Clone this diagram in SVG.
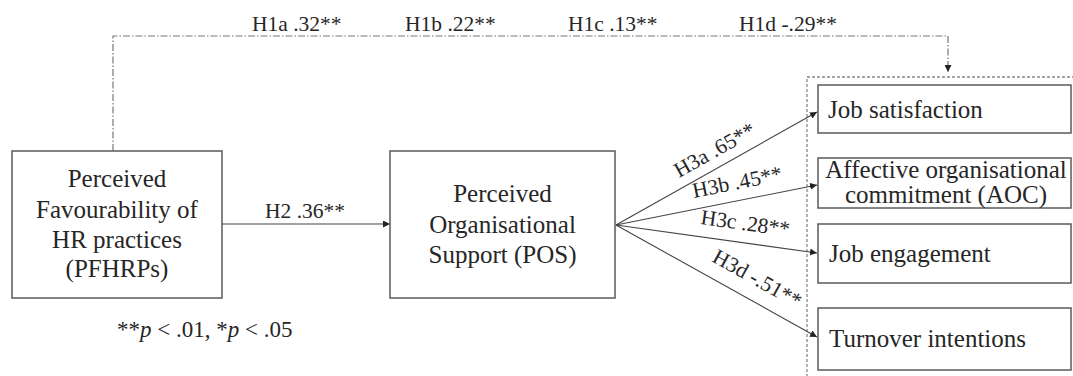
<svg xmlns="http://www.w3.org/2000/svg" width="1073" height="376" viewBox="0 0 1073 376">
<style>
  text { font-family: "Liberation Serif", Tinos, "Times New Roman", "DejaVu Serif", serif; fill: #262626; }
  .node { font-size: 25px; }
  .lbl { font-size: 21.5px; }
  .foot { font-size: 23px; }
  .box { fill: #fff; stroke: #5a5a5a; stroke-width: 1.5; }
  .edge { fill: none; stroke: #444; stroke-width: 1.1; }
  .dashdot { fill: none; stroke: #777; stroke-width: 1.2; stroke-dasharray: 7 2 1.5 2; }
  .dotted { fill: none; stroke: #888; stroke-width: 1.3; stroke-dasharray: 3 2; }
</style>
<defs>
  <marker id="arr" viewBox="0 0 10 10" refX="10" refY="5" markerWidth="7" markerHeight="7" markerUnits="userSpaceOnUse" orient="auto">
    <path d="M0,0 L10,5 L0,10 z" fill="#222"/>
  </marker>
</defs>
<rect width="1073" height="376" fill="#fff"/>

<g id="outcome-group">
  <rect class="dotted" x="807" y="77" width="270" height="305"/>
</g>

<g id="connectors">
  <polyline class="dashdot" points="113,151 113,36 948,36 948,72" marker-end="url(#arr)"/>
  <line class="edge" x1="222" y1="224" x2="390" y2="224" marker-end="url(#arr)"/>
  <line class="edge" x1="616" y1="225" x2="817" y2="112" marker-end="url(#arr)"/>
  <line class="edge" x1="616" y1="225" x2="817" y2="185" marker-end="url(#arr)"/>
  <line class="edge" x1="616" y1="225" x2="817" y2="253" marker-end="url(#arr)"/>
  <line class="edge" x1="616" y1="225" x2="817" y2="337" marker-end="url(#arr)"/>
  <text class="lbl" x="252" y="31">H1a .32**</text>
  <text class="lbl" x="405" y="31">H1b .22**</text>
  <text class="lbl" x="568" y="31">H1c .13**</text>
  <text class="lbl" x="739" y="31">H1d -.29**</text>
  <text class="lbl" x="265" y="218">H2 .36**</text>
  <text class="lbl" transform="translate(679,178) rotate(-29.3)">H3a .65**</text>
  <text class="lbl" transform="translate(694,198) rotate(-11.3)">H3b .45**</text>
  <text class="lbl" transform="translate(700,224) rotate(7.9)">H3c .28**</text>
  <text class="lbl" transform="translate(711,261) rotate(29.1)">H3d -.51**</text>
</g>

<g id="pfhrps">
  <rect class="box" x="12" y="151" width="210" height="147"/>
  <text class="node" text-anchor="middle" x="117" y="187">Perceived</text>
  <text class="node" text-anchor="middle" x="117" y="218">Favourability of</text>
  <text class="node" text-anchor="middle" x="117" y="248">HR practices</text>
  <text class="node" text-anchor="middle" x="117" y="277">(PFHRPs)</text>
</g>

<g id="pos">
  <rect class="box" x="390" y="151" width="225" height="147"/>
  <text class="node" text-anchor="middle" x="502.5" y="202">Perceived</text>
  <text class="node" text-anchor="middle" x="502.5" y="233">Organisational</text>
  <text class="node" text-anchor="middle" x="502.5" y="263">Support (POS)</text>
</g>

<g id="job-satisfaction">
  <rect class="box" x="818" y="85" width="253" height="48"/>
  <text class="node" x="828" y="118">Job satisfaction</text>
</g>

<g id="aoc">
  <rect class="box" x="818" y="158" width="253" height="50"/>
  <text class="node" text-anchor="middle" x="946" y="178">Affective organisational</text>
  <text class="node" text-anchor="middle" x="946" y="203">commitment (AOC)</text>
</g>

<g id="job-engagement">
  <rect class="box" x="818" y="224" width="253" height="59"/>
  <text class="node" x="829" y="262">Job engagement</text>
</g>

<g id="turnover">
  <rect class="box" x="818" y="308" width="253" height="62"/>
  <text class="node" x="829" y="347">Turnover intentions</text>
</g>

<g id="footnote">
  <text class="foot" x="117" y="337">**<tspan font-style="italic">p</tspan> &lt; .01, *<tspan font-style="italic">p</tspan> &lt; .05</text>
</g>
</svg>
